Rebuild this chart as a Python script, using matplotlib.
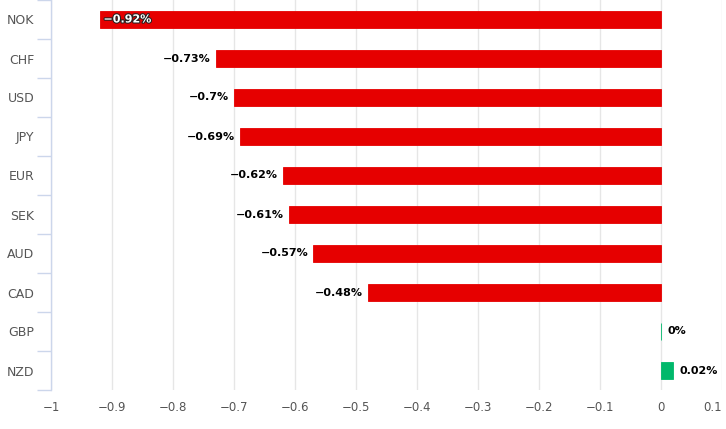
import numpy as np
import matplotlib
matplotlib.use('Agg')
import matplotlib.pyplot as plt
import matplotlib.patheffects as pe

currencies = ['NOK', 'CHF', 'USD', 'JPY', 'EUR', 'SEK', 'AUD', 'CAD', 'GBP', 'NZD']
changes = [-0.92, -0.73, -0.7, -0.69, -0.62, -0.61, -0.57, -0.48, 0.0, 0.02]
labels = ['\u22120.92%', '\u22120.73%', '\u22120.7%', '\u22120.69%', '\u22120.62%',
          '\u22120.61%', '\u22120.57%', '\u22120.48%', '0%', '0.02%']
xticks = [-1, -0.9, -0.8, -0.7, -0.6, -0.5, -0.4, -0.3, -0.2, -0.1, 0, 0.1]

RED = '#e60000'
GREEN = '#00b86b'

plt.rcParams.update({'font.family': 'DejaVu Sans'})

fig = plt.figure(figsize=(7.26, 4.29), dpi=100)
ax = fig.add_axes([51/726, 39/429, (722-51)/726, 390/429])

y = np.arange(len(currencies))
colors = [RED if v < 0 else GREEN for v in changes]
ax.barh(y, changes, height=0.44, color=colors, edgecolor=colors, linewidth=0.6, zorder=3)

for i, (v, lab) in enumerate(zip(changes, labels)):
    if i == 0:
        t = ax.text(v + 0.006, i, lab, ha='left', va='center', fontsize=8,
                    fontweight='bold', color='white', zorder=4)
        t.set_path_effects([pe.withStroke(linewidth=1.5, foreground='#222222')])
    elif v < 0:
        ax.text(v - 0.008, i, lab, ha='right', va='center', fontsize=8,
                fontweight='bold', color='black', zorder=4)
    else:
        ax.text(v + 0.011, i, lab, ha='left', va='center', fontsize=8,
                fontweight='bold', color='black', zorder=4)

ax.set_xlim(-1, 0.1)
ax.set_ylim(len(currencies) - 0.5, -0.5)
ax.set_xticks(xticks)
ax.set_xticklabels(['\u2212' + f'{abs(t):g}' if t < 0 else f'{t:g}' for t in xticks])
ax.get_xticklabels()[-1].set_horizontalalignment('right')

ax.set_yticks(y)
ax.set_yticklabels(currencies)
ax.set_yticks(np.arange(len(currencies) + 1) - 0.5, minor=True)
ax.tick_params(axis='y', which='major', length=0, pad=12, labelsize=9, labelcolor='#555555')
ax.tick_params(axis='y', which='minor', length=10, width=1, color='#ccd6eb', direction='out')
ax.tick_params(axis='x', length=0, pad=8, labelsize=8.5, labelcolor='#555555')

ax.grid(axis='x', color='#e6e6e6', lw=1, zorder=0)
for s in ['top', 'right', 'bottom']:
    ax.spines[s].set_visible(False)
ax.spines['left'].set_color('#ccd6eb')
ax.spines['left'].set_linewidth(1)

plt.savefig('out.png', dpi=100)
